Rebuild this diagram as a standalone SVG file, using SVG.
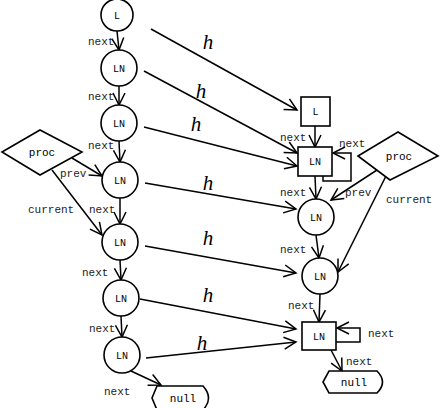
<svg xmlns="http://www.w3.org/2000/svg" width="441" height="408" viewBox="0 0 441 408">
<style>
.n{fill:#fff;stroke:#000;stroke-width:1.6}
.c{fill:none;stroke:#000;stroke-width:1.5}
.t{font-family:"Liberation Mono","DejaVu Sans Mono",monospace;font-size:11px;fill:#222}
.s{font-family:"Liberation Mono","DejaVu Sans Mono",monospace;font-size:10px;fill:#000;text-anchor:middle}
.h{font-family:"Liberation Serif","DejaVu Serif",serif;font-style:italic;font-size:21px;fill:#000;text-anchor:middle}
</style>
<defs>
<marker id="a" markerUnits="userSpaceOnUse" markerWidth="16" markerHeight="16" refX="13" refY="7" orient="auto">
<path d="M1,1 L13,7 L1,13" fill="none" stroke="#000" stroke-width="1.5"/>
</marker>
</defs>
<rect width="441" height="408" fill="#fff"/>
<g id="connectors">
<path class="c" d="M117,31 L119,50" marker-end="url(#a)"/>
<path class="c" d="M119,86 L119,105" marker-end="url(#a)"/>
<path class="c" d="M119,141 L120,162" marker-end="url(#a)"/>
<path class="c" d="M120,198 L120,224" marker-end="url(#a)"/>
<path class="c" d="M120,260 L121,280" marker-end="url(#a)"/>
<path class="c" d="M121,316 L122,337" marker-end="url(#a)"/>
<path class="c" d="M131,371 L161,385" marker-end="url(#a)"/>
<path class="c" d="M72,158 L102,176" marker-end="url(#a)"/>
<path class="c" d="M52,170 L102,235" marker-end="url(#a)"/>
<path class="c" d="M151,29 L297,110" marker-end="url(#a)"/>
<path class="c" d="M144,71 L297,153" marker-end="url(#a)"/>
<path class="c" d="M144,127 L297,166" marker-end="url(#a)"/>
<path class="c" d="M145,183 L296,209" marker-end="url(#a)"/>
<path class="c" d="M145,246 L296,273" marker-end="url(#a)"/>
<path class="c" d="M140,299 L296,329" marker-end="url(#a)"/>
<path class="c" d="M146,358 L296,342" marker-end="url(#a)"/>
<path class="c" d="M315,126 L315,147" marker-end="url(#a)"/>
<path class="c" d="M315,176 L316,199" marker-end="url(#a)"/>
<path class="c" d="M316,235 L319,258" marker-end="url(#a)"/>
<path class="c" d="M320,294 L319,322" marker-end="url(#a)"/>
<path class="c" d="M331,350 L342,371" marker-end="url(#a)"/>
<path class="c" d="M323,176 L323,181 L351,181 L351,153 L333,153" marker-end="url(#a)"/>
<path class="c" d="M336,342 L360,342 L360,328 L337,328" marker-end="url(#a)"/>
<path class="c" d="M377,170 L331,200" marker-end="url(#a)"/>
<path class="c" d="M387,174 L338,272" marker-end="url(#a)"/>
<text class="t" x="88" y="45">next</text>
<text class="t" x="88" y="100">next</text>
<text class="t" x="88" y="149">next</text>
<text class="t" x="60" y="177">prev</text>
<text class="t" x="28" y="213">current</text>
<text class="t" x="89" y="213">next</text>
<text class="t" x="82" y="276">next</text>
<text class="t" x="89" y="332">next</text>
<text class="t" x="104" y="395">next</text>
<text class="t" x="280" y="141">next</text>
<text class="t" x="339" y="147">next</text>
<text class="t" x="280" y="196">next</text>
<text class="t" x="345" y="196">prev</text>
<text class="t" x="386" y="203">current</text>
<text class="t" x="280" y="253">next</text>
<text class="t" x="288" y="309">next</text>
<text class="t" x="368" y="337">next</text>
<text class="t" x="346" y="365">next</text>
<text class="h" x="208" y="49">h</text>
<text class="h" x="201" y="98">h</text>
<text class="h" x="196" y="131">h</text>
<text class="h" x="208" y="190">h</text>
<text class="h" x="208" y="245">h</text>
<text class="h" x="208" y="302">h</text>
<text class="h" x="202" y="350">h</text>
</g>
<g id="L1"><circle class="n" cx="117" cy="15" r="16"/><text class="s" x="117" y="19">L</text></g>
<g id="LN1"><circle class="n" cx="119" cy="68" r="18"/><text class="s" x="119" y="72">LN</text></g>
<g id="LN2"><circle class="n" cx="119" cy="123" r="18"/><text class="s" x="119" y="127">LN</text></g>
<g id="LN3"><circle class="n" cx="120" cy="180" r="18"/><text class="s" x="120" y="184">LN</text></g>
<g id="LN4"><circle class="n" cx="120" cy="242" r="18"/><text class="s" x="120" y="246">LN</text></g>
<g id="LN5"><circle class="n" cx="121" cy="298" r="18"/><text class="s" x="121" y="302">LN</text></g>
<g id="LN6"><circle class="n" cx="122" cy="355" r="18"/><text class="s" x="122" y="359">LN</text></g>
<g id="null1"><path class="n" d="M157,386 L203,386 Q214,398 203,410 L157,410 L152,398 Z"/><text class="s" x="183" y="402" style="font-size:11px">null</text></g>
<g id="proc1"><path class="n" d="M2,152 L40,130 L82,152 L40,175 Z"/><text class="s" x="42" y="156" style="font-size:11px">proc</text></g>
<g id="L2"><rect class="n" x="301" y="97" width="29" height="29"/><text class="s" x="315.5" y="115">L</text></g>
<g id="LN7"><rect class="n" x="298" y="147" width="34" height="29"/><text class="s" x="315" y="165">LN</text></g>
<g id="LN8"><circle class="n" cx="316" cy="217" r="18"/><text class="s" x="316" y="221">LN</text></g>
<g id="LN9"><circle class="n" cx="320" cy="276" r="18"/><text class="s" x="320" y="280">LN</text></g>
<g id="LN10"><rect class="n" x="302" y="322" width="34" height="28"/><text class="s" x="319" y="340">LN</text></g>
<g id="null2"><path class="n" d="M329,371 L377,371 Q388,382 377,393 L329,393 L323,382 Z"/><text class="s" x="354" y="386" style="font-size:11px">null</text></g>
<g id="proc2"><path class="n" d="M358,156 L398,132 L438,156 L390,180 Z"/><text class="s" x="399" y="160" style="font-size:11px">proc</text></g>
</svg>
